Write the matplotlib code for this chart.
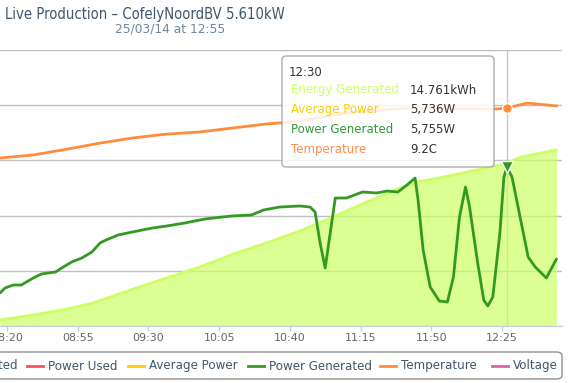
import matplotlib
matplotlib.use("Agg")
import matplotlib.pyplot as plt
from matplotlib.lines import Line2D
from matplotlib.patches import FancyBboxPatch
import pandas as pd

# ---- data ----
power_times = ["08:16:30", "08:19", "08:23", "08:27", "08:33", "08:37", "08:44", "08:47",
               "08:52", "08:57", "09:02", "09:06", "09:09", "09:15", "09:22", "09:32",
               "09:39", "09:48", "09:58", "10:11", "10:21", "10:27", "10:35", "10:45",
               "10:50", "10:52:30", "10:55", "10:57:30", "11:00", "11:02:30", "11:08",
               "11:16", "11:23", "11:28", "11:33:30", "11:38", "11:42", "11:43:30",
               "11:46", "11:49:30", "11:54", "11:58", "12:01", "12:04", "12:07", "12:09",
               "12:13", "12:16", "12:18", "12:20:30", "12:24", "12:26", "12:27:30",
               "12:30", "12:34", "12:38", "12:41:30", "12:47", "12:52"]
power_w = [1196, 1377, 1485, 1485, 1739, 1884, 1956, 2101,
           2319, 2464, 2681, 3007, 3116, 3297, 3406, 3551,
           3623, 3732, 3877, 3985, 4022, 4203, 4311, 4348,
           4311, 4130, 3007, 2101, 3369, 4637, 4637,
           4855, 4819, 4891, 4855, 5108, 5362, 4565,
           2753, 1413, 906, 870, 1775, 3949, 5036, 4311,
           2283, 942, 725, 1051, 3369, 5398, 5755,
           5398, 3949, 2500, 2138, 1739, 2427]

energy_times = ["08:16:30", "08:33", "08:50", "09:02:30", "09:22:30", "09:39", "09:55:30",
                "10:12", "10:28:30", "10:45", "11:01:30", "11:18", "11:34:30", "11:43",
                "11:54", "12:08", "12:17:30", "12:27:30", "12:34:30", "12:52"]
energy_kwh = [0.54, 1.00, 1.54, 2.08, 3.35, 4.35, 5.35,
              6.52, 7.52, 8.61, 9.88, 11.23, 12.50, 13.05,
              13.41, 13.95, 14.31, 14.761, 15.31, 15.95]

temp_times = ["08:16:30", "08:33", "08:50", "09:06", "09:22:30", "09:39", "09:55:30",
              "10:12", "10:28:30", "10:41:30", "11:08", "11:38", "12:22:30", "12:27:30",
              "12:37:30", "12:52"]
temp_c = [7.09, 7.22, 7.47, 7.72, 7.94, 8.10, 8.19,
          8.36, 8.53, 8.61, 8.99, 9.20, 9.16, 9.2,
          9.41, 9.29]

hover_time = "12:27:30"
tooltip_rows = [("Energy Generated", "14.761kWh", "#CCFF66"),
                ("Average Power", "5,736W", "#FFCC00"),
                ("Power Generated", "5,755W", "#2E9A3A"),
                ("Temperature", "9.2C", "#FF8C4C")]
legend_items = [("Energy Generated", "#CCFF66"), ("Power Used", "#FF4D5E"),
                ("Average Power", "#FFCC00"), ("Power Generated", "#339922"),
                ("Temperature", "#FF8C3C"), ("Voltage", "#E060B0")]
tick_labels = ["08:20", "08:55", "09:30", "10:05", "10:40", "11:15", "11:50", "12:25"]

day = "2014-03-25 "

def to_dt(lst):
    return pd.to_datetime([day + t for t in lst], format="mixed")

pt = to_dt(power_times)
et = to_dt(energy_times)
tt = to_dt(temp_times)
ht = pd.to_datetime(day + hover_time)

W, H = 569, 383
fig = plt.figure(figsize=(W / 100, H / 100), dpi=100)
fig.patch.set_facecolor("white")

def fx(x):
    return x / W

def fy(y):
    return 1 - y / H

ax = fig.add_axes([0, fy(326), fx(562), 276 / H])
ax_p = ax.twinx()
ax_t = ax.twinx()

# energy (area) on the base axes
ax.set_ylim(0, 25)
ax.set_yticks([0, 5, 10, 15, 20, 25])
ax.grid(axis="y", color="#C0C0C0", lw=1)
ax.set_axisbelow(True)
ax.axvline(ht, color="#C8C8C8", lw=1, zorder=0.5)
ax.fill_between(et, energy_kwh, color="#CCFF66", alpha=0.7, lw=0, zorder=1)
ax.plot(et, energy_kwh, color="#CCFF66", lw=2, zorder=2)

# power generated
ax_p.set_ylim(0, 10000)
ax_p.plot(pt, power_w, color="#339922", lw=2, solid_capstyle="round")
i = power_times.index(hover_time)
ax_p.plot([pt[i]], [power_w[i]], marker="v", ms=8, color="#339922",
          mec="white", mew=1, zorder=5)

# temperature
ax_t.set_ylim(0, 11.65)
ax_t.plot(tt, temp_c, color="#FF8C3C", lw=2)
j = temp_times.index(hover_time)
ax_t.plot([tt[j]], [temp_c[j]], marker="o", ms=7, color="#FF8C3C", mec="white", mew=1)

for a in (ax, ax_p, ax_t):
    a.set_xlim(pd.to_datetime(day + "08:16:30"), pd.to_datetime(day + "12:54:45"))
    for s in a.spines.values():
        s.set_visible(False)
    a.tick_params(axis="y", left=False, right=False, labelleft=False, labelright=False)

ax.spines["bottom"].set_visible(True)
ax.spines["bottom"].set_color("#C0D0E0")
ax.set_xticks(to_dt(tick_labels))
ax.set_xticklabels(tick_labels)
ax.tick_params(axis="x", colors="#C0D0E0", length=3.6, width=1, labelcolor="#666666",
               labelsize=8, pad=1.5)
ax_p.tick_params(axis="x", bottom=False, labelbottom=False)
ax_t.tick_params(axis="x", bottom=False, labelbottom=False)

# titles (the chart is cropped on the left in the reference)
fig.text(fx(5), fy(14), "Live Production \u2013 CofelyNoordBV 5.610kW", ha="left",
         va="center", fontsize=10.6, fontstretch="condensed", color="#3E576F")
fig.text(fx(170), fy(29), "25/03/14 at 12:55", ha="center", va="center",
         fontsize=8.8, color="#6D869F")

# tooltip
box = FancyBboxPatch((fx(282), fy(167)), fx(494 - 282), (167 - 56) / H,
                     boxstyle="round,pad=0,rounding_size=0.008",
                     transform=fig.transFigure, facecolor="white", alpha=0.85,
                     edgecolor="#A0A0A0", lw=1, zorder=10)
fig.add_artist(box)
fig.text(fx(289), fy(72), "12:30", fontsize=8.5, color="#333333", va="center", zorder=11)
for k, (lab, val, col) in enumerate(tooltip_rows):
    y = 90 + k * 19.7
    fig.text(fx(291), fy(y), lab, fontsize=8.5, color=col, va="center", zorder=11)
    fig.text(fx(410), fy(y), val, fontsize=8.5, color="#333333", va="center", zorder=11)

# legend (first item is cut by the left edge)
leg = FancyBboxPatch((fx(-20), fy(379)), fx(582), 27 / H,
                     boxstyle="round,pad=0,rounding_size=0.01",
                     transform=fig.transFigure, facecolor="none",
                     edgecolor="#909090", lw=1)
fig.add_artist(leg)
item_x = [None, 27, 128, 248, 380, 492]
for (lab, col), x0 in zip(legend_items, item_x):
    if x0 is None:
        fig.text(fx(18), fy(366), lab, fontsize=8.6, color="#3E576F", va="center",
                 ha="right")
        continue
    fig.add_artist(Line2D([fx(x0), fx(x0 + 16)], [fy(366), fy(366)], color=col, lw=2,
                          transform=fig.transFigure))
    fig.text(fx(x0 + 21), fy(366), lab, fontsize=8.6, color="#3E576F", va="center")

fig.savefig("out.png", dpi=100)
